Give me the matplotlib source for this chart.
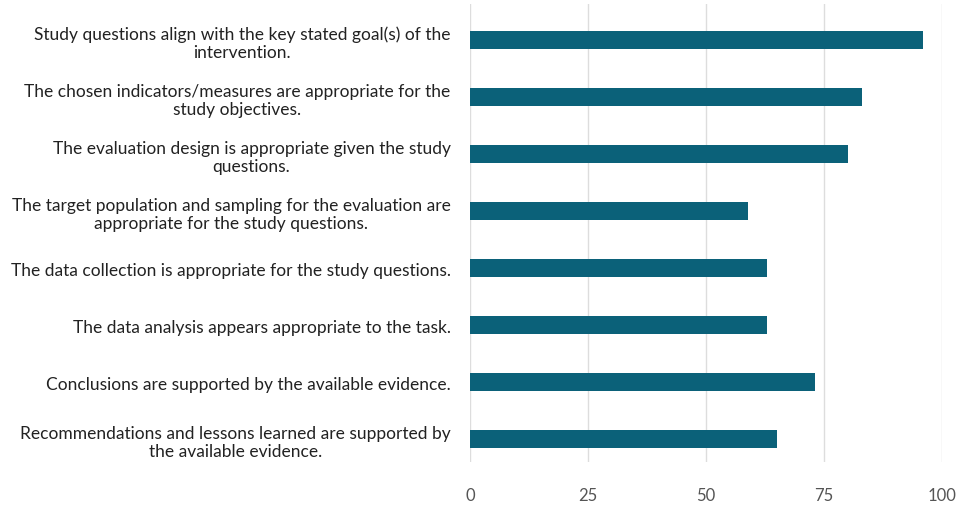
import matplotlib
matplotlib.use("Agg")
import matplotlib.pyplot as plt

categories = [
    "Study questions align with the key stated goal(s) of the\nintervention.",
    "The chosen indicators/measures are appropriate for the\nstudy objectives.",
    "The evaluation design is appropriate given the study\nquestions.",
    "The target population and sampling for the evaluation are\nappropriate for the study questions.",
    "The data collection is appropriate for the study questions.",
    "The data analysis appears appropriate to the task.",
    "Conclusions are supported by the available evidence.",
    "Recommendations and lessons learned are supported by\nthe available evidence.",
]
values = [96, 83, 80, 59, 63, 63, 73, 65]
xticks = [0, 25, 50, 75, 100]

plt.rcParams['font.family'] = ['Lato', 'DejaVu Sans']

fig = plt.figure(figsize=(9.56, 5.06), dpi=100)
ax = fig.add_axes([0.4916, 0.085, 0.4937, 0.905])

ypos = list(range(len(categories)))
ax.barh(ypos, values, height=0.32, color='#0b6179', zorder=3)
ax.set_ylim(7.4, -0.63)
ax.set_xlim(0, 100)
ax.set_xticks(xticks)
ax.set_xticklabels([str(t) for t in xticks], color='#555555', fontsize=12)
ax.set_yticks(ypos)
ax.set_yticklabels(categories, fontsize=12.5, color='#222222', multialignment='center')
ax.tick_params(axis='y', length=0, pad=14)
ax.tick_params(axis='x', length=0, pad=18)
ax.grid(axis='x', color='#dddddd', linewidth=1, zorder=0)
for s in ax.spines.values():
    s.set_visible(False)

fig.savefig('out.png', dpi=100)
